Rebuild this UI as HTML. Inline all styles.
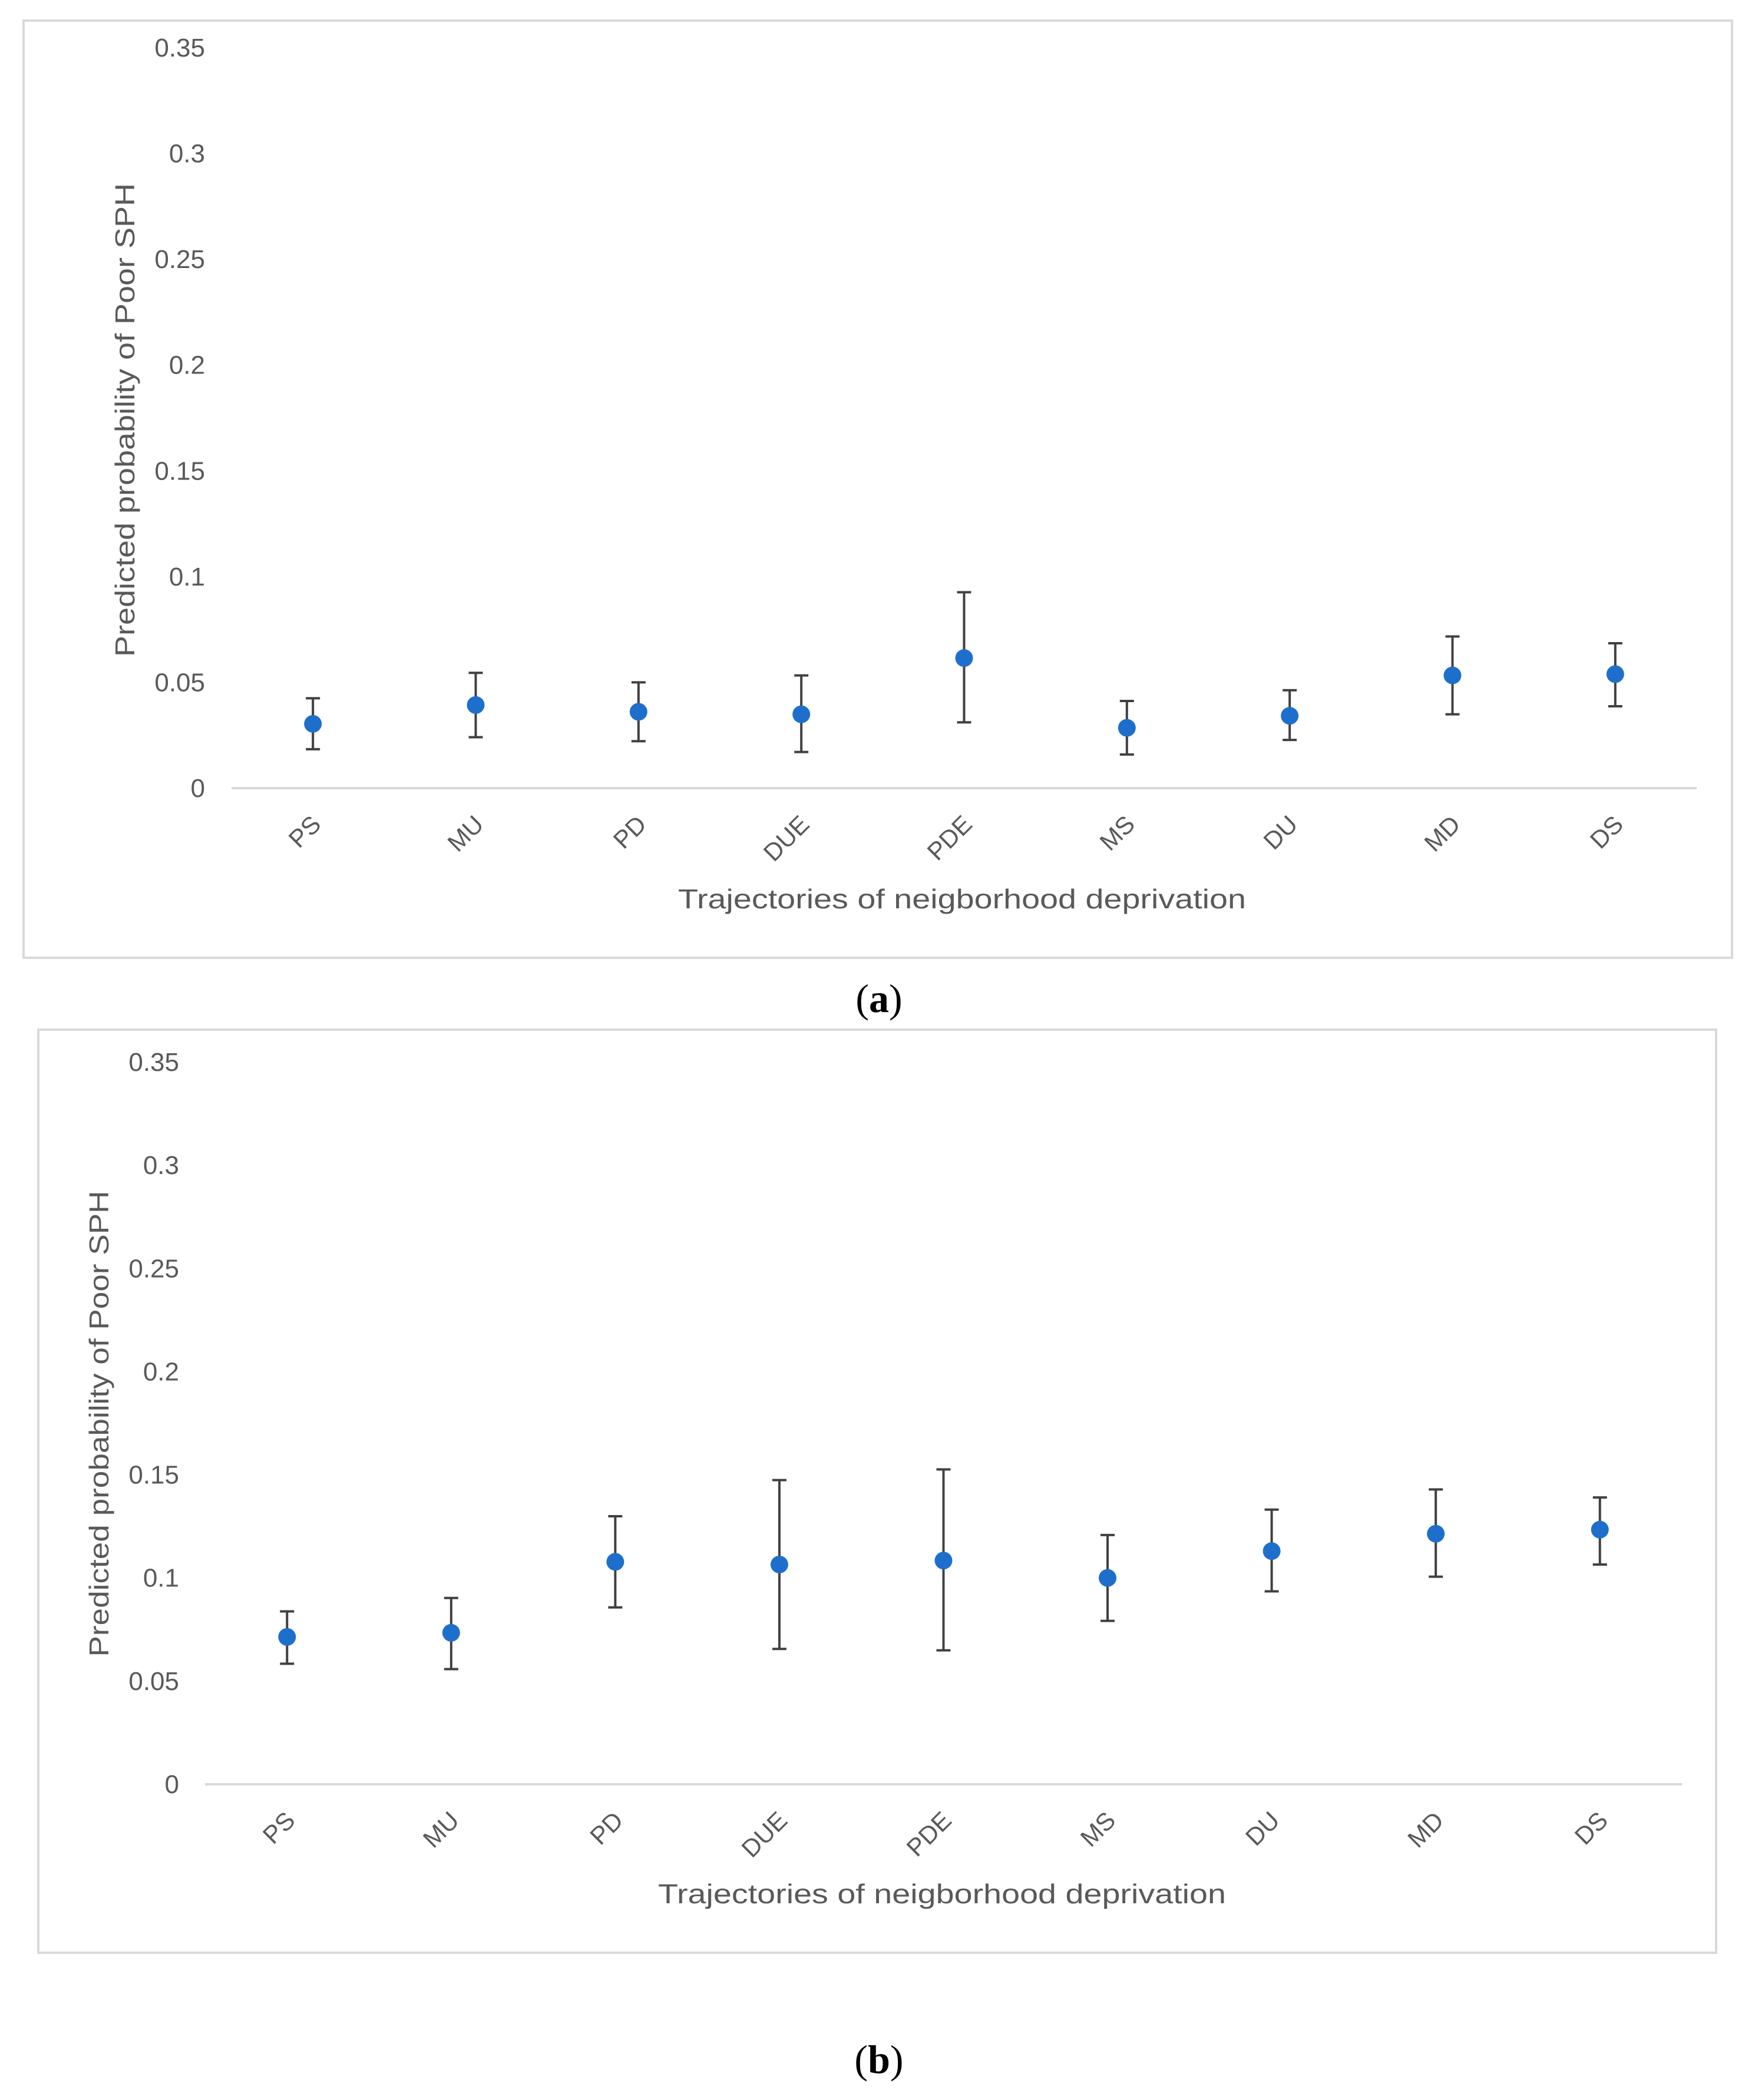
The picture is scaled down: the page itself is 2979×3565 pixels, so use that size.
<!DOCTYPE html>
<html><head><meta charset="utf-8"><style>
html,body{margin:0;padding:0;background:#fff;}
svg{display:block;font-family:"Liberation Sans",sans-serif;}
</style></head><body>
<svg id="svg" width="2979" height="3565" viewBox="0 0 2979 3565">
<text x="1492" y="1718" font-family="Liberation Serif" font-size="68" text-anchor="middle">(<tspan font-weight="bold">a</tspan>)</text>
<text x="1492" y="3519" font-family="Liberation Serif" font-size="68" text-anchor="middle">(<tspan font-weight="bold">b</tspan>)</text>
</svg>
<script>
const categories = ["PS","MU","PD","DUE","PDE","MS","DU","MD","DS"];
const yTicks = [0,0.05,0.1,0.15,0.2,0.25,0.3,0.35];
const yTickLabels = ["0","0.05","0.1","0.15","0.2","0.25","0.3","0.35"];
const valuesA = [0.0304,0.0393,0.0361,0.0349,0.0615,0.0285,0.0342,0.0533,0.0539];
const upperA  = [0.0425,0.0545,0.0500,0.0533,0.0926,0.0412,0.0463,0.0717,0.0685];
const lowerA  = [0.0184,0.0241,0.0222,0.0171,0.0311,0.0159,0.0228,0.0349,0.0387];
const valuesB = [0.0714,0.0734,0.1078,0.1065,0.1084,0.1000,0.1130,0.1214,0.1234];
const upperB  = [0.0838,0.0903,0.1299,0.1474,0.1526,0.1208,0.1331,0.1429,0.1390];
const lowerB  = [0.0584,0.0558,0.0857,0.0656,0.0649,0.0792,0.0935,0.1006,0.1065];

const NS = "http://www.w3.org/2000/svg";
const svg = document.getElementById("svg");
function mk(tag, attrs, parent){ const e=document.createElementNS(NS,tag); for(const k in attrs) e.setAttribute(k,attrs[k]); (parent||svg).appendChild(e); return e; }

function chart(cfg, vals, up, lo, suffix){
  const g = mk("g",{});
  
  
  const frame = mk("rect",{x:cfg.fx,y:cfg.fy,width:cfg.fw,height:cfg.fh,fill:"#fff",stroke:"#d9d9d9","stroke-width":4},g);
  
  
  const y = v => cfg.y0 - v/0.35*(cfg.y0-cfg.y35);
  const step = (cfg.x1-cfg.x0)/categories.length;
  const x = i => cfg.x0 + step*(i+0.5);
  yTicks.forEach((t,i)=>{
    const tx = mk("text",{x:cfg.tickX,y:y(t)+15,"font-size":44,fill:"#595959","text-anchor":"end"},g);
    tx.textContent = yTickLabels[i];
    
    
  });
  const ax = mk("line",{x1:cfg.x0,x2:cfg.x1,y1:cfg.y0,y2:cfg.y0,stroke:"#d9d9d9","stroke-width":4},g);
  
  
  categories.forEach((c,i)=>{
    const ax0 = x(i)+16, ay0 = cfg.y0+64;
    const tx = mk("text",{x:ax0,y:ay0,"font-size":42,fill:"#595959","text-anchor":"end",transform:`rotate(-45 ${ax0} ${ay0})`},g);
    tx.textContent = c;
    
    
    const eb = mk("g",{stroke:"#404040","stroke-width":4},g);
    
    
    mk("line",{x1:x(i),x2:x(i),y1:y(up[i]),y2:y(lo[i])},eb);
    mk("line",{x1:x(i)-12,x2:x(i)+12,y1:y(up[i]),y2:y(up[i])},eb);
    mk("line",{x1:x(i)-12,x2:x(i)+12,y1:y(lo[i]),y2:y(lo[i])},eb);
    const pt = mk("circle",{cx:x(i),cy:y(vals[i]),r:15,fill:"#1e6fcc"},g);
    
    
  });
  const yt = mk("text",{x:0,y:0,"font-size":46,fill:"#595959","text-anchor":"middle",textLength:cfg.ytLen,lengthAdjust:"spacingAndGlyphs",transform:`translate(${cfg.ytX} ${cfg.ytY}) rotate(-90)`},g);
  yt.textContent = "Predicted probability of Poor SPH";
  
  
  const xt = mk("text",{x:cfg.xtX,y:cfg.xtY,"font-size":46,fill:"#595959","text-anchor":"middle",textLength:964,lengthAdjust:"spacingAndGlyphs"},g);
  xt.textContent = "Trajectories of neigborhood deprivation";
  
  
}
chart({fx:40,fy:35,fw:2900,fh:1591,x0:393,x1:2880,y0:1338,y35:81,tickX:348,ytX:228,ytY:713,ytLen:804,xtX:1633,xtY:1542}, valuesA, upperA, lowerA, "a");
chart({fx:65,fy:1748,fw:2848,fh:1567,x0:348,x1:2855,y0:3029,y35:1803,tickX:304,ytX:184,ytY:2417,ytLen:791,xtX:1599,xtY:3231}, valuesB, upperB, lowerB, "b");
</script>
</body></html>
